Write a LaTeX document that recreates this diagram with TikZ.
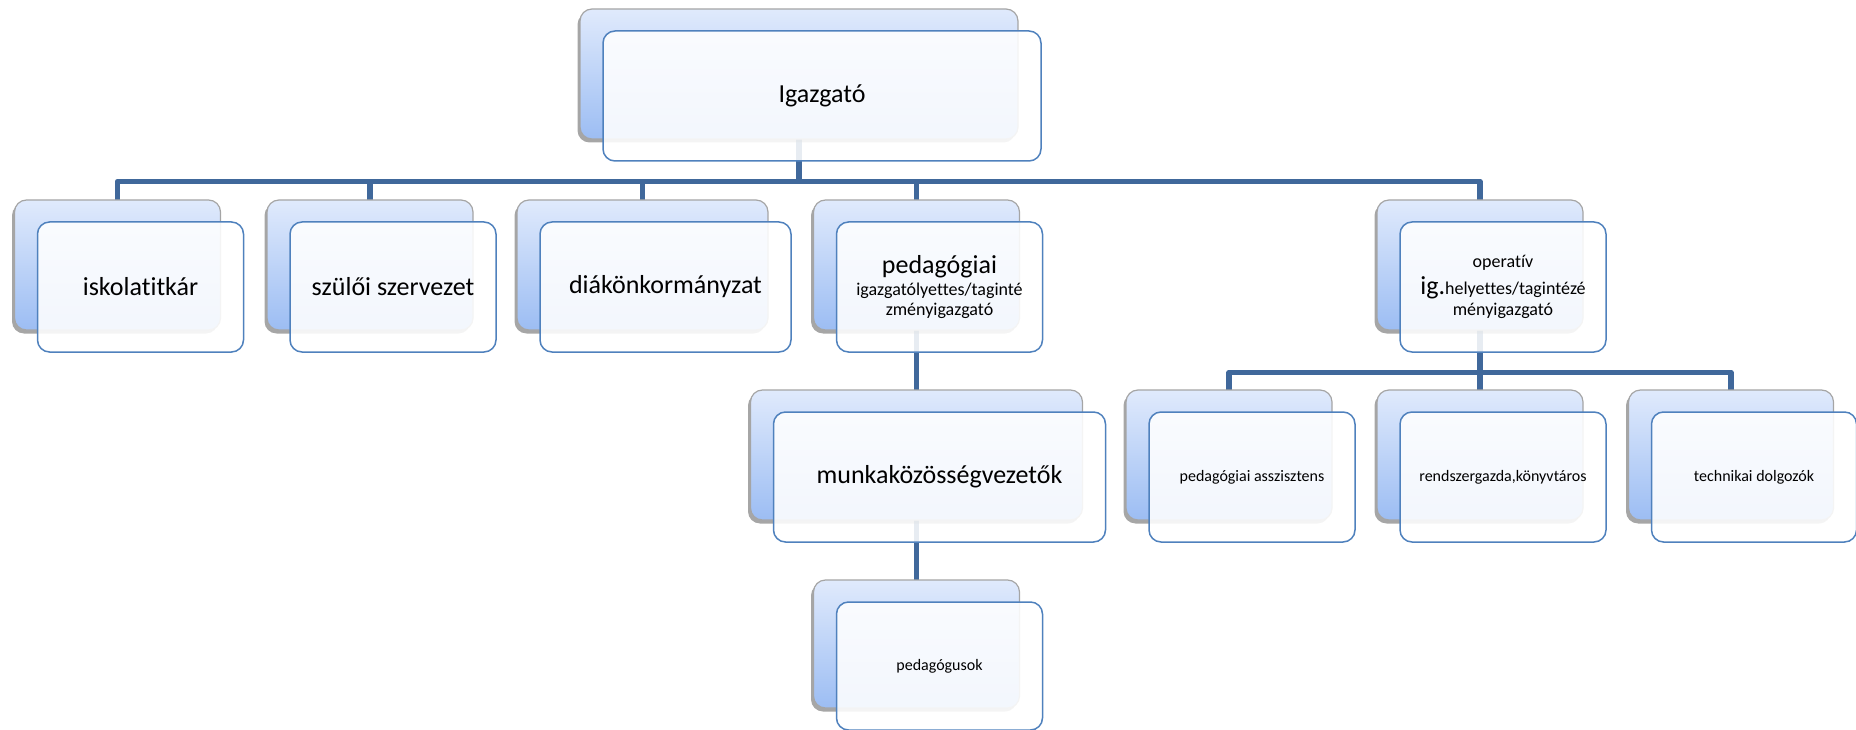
\documentclass[tikz,border=0pt]{standalone}
\usepackage{fontspec}
\setmainfont{Carlito}[Ligatures=NoCommon]
\usetikzlibrary{shadows,calc}
\pgfdeclarelayer{bg}
\pgfsetlayers{bg,main}
\definecolor{connC}{RGB}{64,104,155}
\definecolor{frontB}{RGB}{79,129,189}
\definecolor{backTop}{RGB}{224,234,252}
\definecolor{backBot}{RGB}{156,189,243}
\definecolor{backB}{RGB}{165,165,165}
\tikzset{
 backbox/.style={rectangle, rounded corners=12pt, draw=backB, line width=1.2pt,
   top color=backTop, bottom color=backBot, minimum width=206pt, minimum height=130pt,
   inner sep=0pt, outer sep=0pt,
   drop shadow={shadow xshift=-2.5pt, shadow yshift=-3.5pt, opacity=0.35, fill=black}},
 frontbox/.style={rectangle, rounded corners=12pt, draw=frontB, line width=1.5pt,
   fill=white, fill opacity=0.88, text opacity=1, minimum width=206pt, minimum height=130pt,
   inner sep=0pt, outer sep=0pt, align=center, font=\fontsize{26pt}{30pt}\selectfont},
 smalltext/.style={font=\fontsize{16pt}{19pt}\selectfont},
 midtext/.style={font=\fontsize{18pt}{20pt}\selectfont},
 conn/.style={draw=connC, line width=5.5pt, line join=round},
}
\begin{document}
\begin{tikzpicture}[x=1pt,y=-1pt]
\useasboundingbox (0,0) rectangle (1856,730);
% level 0
\node[backbox, minimum width=438pt] (igB) at (799,74) {};
\node[frontbox, minimum width=438pt] (igF) at ($(igB.center)+(23,22)$) {Igazgató};
% level 1
\node[backbox] (iskB) at (117.5,265) {};
\node[frontbox] (iskF) at ($(iskB.center)+(23,22)$) {iskolatitkár};
\node[backbox] (szulB) at (370,265) {};
\node[frontbox] (szulF) at ($(szulB.center)+(23,22)$) {szülői szervezet};
\node[backbox, minimum width=251pt] (diakB) at (642.5,265) {};
\node[frontbox, minimum width=251pt] (diakF) at ($(diakB.center)+(23,22)$) {diákönkormányzat};
\node[backbox] (pedB) at (916.5,265) {};
\node[frontbox, midtext] (pedF) at ($(pedB.center)+(23,22)$)
  {{\fontsize{26pt}{30pt}\selectfont pedagógiai}\\[2pt]igazgatólyettes/taginté\\zményigazgató};
\node[backbox] (opB) at (1480,265) {};
\node[frontbox, midtext] (opF) at ($(opB.center)+(23,22)$)
  {operatív\\[5pt]{\fontsize{26pt}{30pt}\selectfont ig.}helyettes/tagintézé\\[1pt]ményigazgató};
% level 2
\node[backbox, minimum width=332pt] (munB) at (916.5,455) {};
\node[frontbox, minimum width=332pt] (munF) at ($(munB.center)+(23,22)$) {munkaközösségvezetők};
\node[backbox] (aszB) at (1229,455) {};
\node[frontbox, smalltext] (aszF) at ($(aszB.center)+(23,22)$) {pedagógiai asszisztens};
\node[backbox] (rendB) at (1480,455) {};
\node[frontbox, smalltext] (rendF) at ($(rendB.center)+(23,22)$) {rendszergazda,könyvtáros};
\node[backbox, minimum width=205pt] (techB) at (1731,455) {};
\node[frontbox, smalltext, minimum width=205pt] (techF) at ($(techB.center)+(23,22)$) {technikai dolgozók};
% level 3
\node[backbox, minimum height=128pt] (pgB) at (916.5,644) {};
\node[frontbox, smalltext, minimum height=128pt] (pgF) at ($(pgB.center)+(23,22)$) {pedagógusok};
% connectors
\begin{pgfonlayer}{bg}
\coordinate (bar1) at (0,181.5);
\coordinate (bar2) at (0,372.5);
\foreach \c in {iskB,szulB,diakB,pedB,opB}
  \draw[conn] (igB.south) -- (igB.south |- bar1) -| (\c.north);
\draw[conn] (pedB.south) -- (munB.north);
\draw[conn] (munB.south) -- (pgB.north);
\foreach \c in {aszB,rendB,techB}
  \draw[conn] (opB.south) -- (opB.south |- bar2) -| (\c.north);
\end{pgfonlayer}
\end{tikzpicture}
\end{document}
